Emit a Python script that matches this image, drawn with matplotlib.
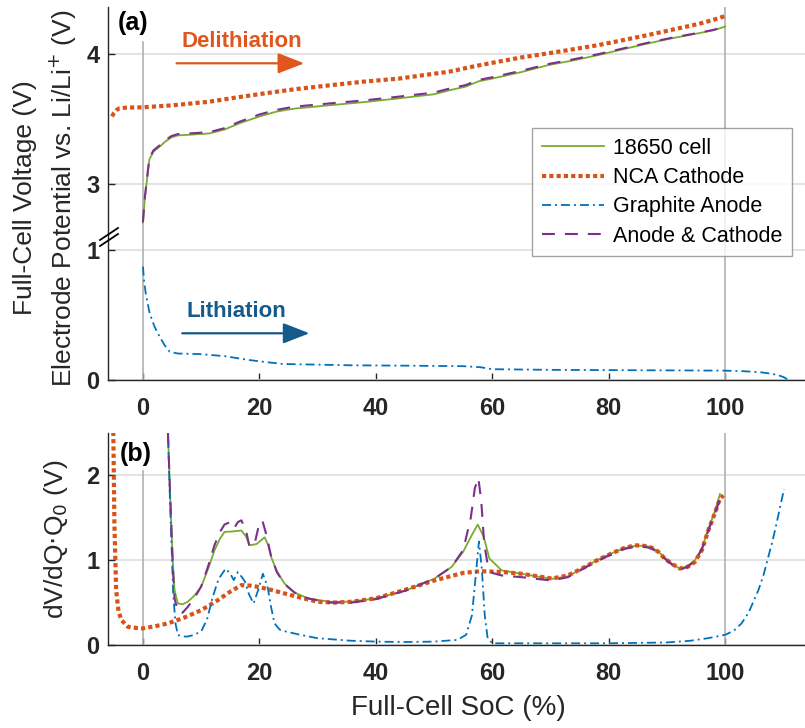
import numpy as np
import matplotlib.pyplot as plt
from matplotlib.lines import Line2D

plt.rcParams['font.family'] = ['Liberation Sans', 'DejaVu Sans']

# (a) voltage curves, x = full-cell SoC (%)
cell_x = [0, 0.3, 0.6, 1.1, 1.8, 2.9, 3.9, 4.9, 6, 8, 11.4, 14, 16.6, 20, 22.9, 26, 32.6, 38, 44, 50,
          52.6, 55.4, 57.7, 60, 65, 69.7, 74, 78.3, 82, 86.8, 91, 95.4, 98, 100]
cell_v = [2.71, 2.88, 3.0, 3.19, 3.25, 3.29, 3.33, 3.36, 3.375, 3.38, 3.39, 3.42, 3.468, 3.52, 3.557, 3.58,
          3.608, 3.63, 3.659, 3.69, 3.72, 3.748, 3.79, 3.81, 3.86, 3.914, 3.95, 3.991, 4.03, 4.08, 4.12,
          4.157, 4.18, 4.208]
ac_v = [2.71, 2.89, 3.01, 3.2, 3.26, 3.3, 3.34, 3.37, 3.385, 3.39, 3.40, 3.43, 3.48, 3.535, 3.57, 3.595,
        3.622, 3.643, 3.672, 3.703, 3.733, 3.76, 3.8, 3.82, 3.87, 3.922, 3.958, 3.998, 4.036, 4.085, 4.124,
        4.16, 4.183, 4.21]
cat_x = [-5.3, -5.0, -4.5, -4.0, -3, -1.5, 0, 5, 11.4, 16, 21.1, 26, 32.6, 38, 44, 48, 52.6, 57, 61.1, 65,
         69.7, 74, 78.3, 82, 86.8, 91, 95.4, 98, 100]
cat_v = [3.52, 3.545, 3.57, 3.583, 3.587, 3.589, 3.59, 3.605, 3.633, 3.665, 3.698, 3.728, 3.761, 3.787,
         3.81, 3.835, 3.863, 3.905, 3.94, 3.972, 4.004, 4.035, 4.067, 4.1, 4.144, 4.185, 4.228, 4.26, 4.289]
an_x = [0, 0.2, 0.5, 1.15, 2, 2.86, 3.7, 4.58, 6, 9.7, 14, 18.3, 21, 24, 30, 35.4, 45, 55, 58, 60, 70, 80,
        90, 100, 103, 106, 108, 109, 110, 111]
an_v = [0.87, 0.76, 0.66, 0.513, 0.41, 0.334, 0.27, 0.219, 0.205, 0.201, 0.185, 0.155, 0.14, 0.125, 0.12,
        0.115, 0.112, 0.108, 0.1, 0.085, 0.08, 0.078, 0.076, 0.074, 0.07, 0.062, 0.05, 0.04, 0.025, 0.0]

# (b) dV/dQ*Q0
b_cat_x = [-5.1, -5.0, -4.9, -4.6, -4.2, -3.7, -2.6, -1, 0, 2, 4.3, 7, 10, 12.9, 15, 16.9, 18.5, 19.7, 22,
           24.3, 27, 30, 33, 35.8, 40, 45, 50, 55, 58, 61.6, 65, 70.2, 73, 75.9, 78, 80.5, 82.5, 84.5, 86,
           87.3, 88.5, 89.6, 91, 92.2, 93.5, 94.8, 96, 97.1, 98.2, 99.1, 99.7]
b_cat_v = [2.6, 2.0, 1.43, 0.647, 0.4, 0.294, 0.215, 0.2, 0.196, 0.22, 0.255, 0.32, 0.41, 0.53, 0.63,
           0.706, 0.7, 0.686, 0.65, 0.608, 0.56, 0.51, 0.5, 0.51, 0.55, 0.65, 0.76, 0.85, 0.87, 0.862, 0.84,
           0.784, 0.82, 0.92, 1.0, 1.08, 1.14, 1.176, 1.17, 1.149, 1.1, 1.02, 0.95, 0.902, 0.92, 0.98, 1.12,
           1.353, 1.55, 1.726, 1.765]
b_cell_x = [4.3, 4.6, 4.86, 5.15, 5.43, 6.0, 6.8, 7.7, 8.8, 10, 11.2, 12.3, 13.2, 14.0, 15.5, 16.9, 17.7,
            18.3, 19.5, 20.2, 20.9, 21.5, 22.0, 23, 24.3, 26, 28.3, 32, 35.8, 40, 45, 50, 53, 55, 56.5,
            57.5, 58.5, 59.5, 61.6, 65, 70.2, 73, 75.9, 78, 80.5, 82.5, 84.5, 86, 87.3, 88.5, 89.6, 91,
            92.2, 93.5, 94.8, 96, 97.1, 98.2, 99.1]
b_cell_v = [2.5, 1.9, 1.43, 0.95, 0.647, 0.49, 0.48, 0.51, 0.58, 0.686, 0.9, 1.118, 1.25, 1.333, 1.34,
            1.35, 1.28, 1.176, 1.19, 1.23, 1.27, 1.18, 1.04, 0.87, 0.725, 0.62, 0.55, 0.51, 0.51, 0.55,
            0.64, 0.78, 0.92, 1.1, 1.3, 1.42, 1.28, 1.02, 0.88, 0.84, 0.78, 0.81, 0.92, 1.0, 1.08, 1.14, 1.17,
            1.17, 1.155, 1.1, 1.03, 0.95, 0.9, 0.93, 1.0, 1.14, 1.37, 1.57, 1.78]
b_ac_x = [4.3, 4.6, 4.86, 5.15, 5.43, 6.0, 6.8, 7.7, 8.8, 10, 11.2, 12.3, 13.2, 14.0, 15.0, 15.7, 16.3,
          16.9, 17.7, 18.3, 19.2, 19.8, 20.5, 21.2, 22.0, 23, 24.3, 26, 28.3, 32, 35.8, 40, 45, 50, 53, 55,
          56.3, 57.0, 57.6, 58.1, 58.6, 59.2, 60, 61.6, 65, 70.2, 73, 75.9, 78, 80.5, 82.5, 84.5, 86, 87.3,
          88.5, 89.6, 91, 92.2, 93.5, 94.8, 96, 97.1, 98.2, 99.1, 99.7]
b_ac_v = [2.5, 1.9, 1.43, 0.9, 0.55, 0.39, 0.38, 0.45, 0.55, 0.69, 0.93, 1.18, 1.33, 1.42, 1.45, 1.38,
          1.45, 1.47, 1.35, 1.16, 1.2, 1.38, 1.47, 1.3, 1.05, 0.86, 0.72, 0.62, 0.55, 0.5, 0.5, 0.54, 0.64,
          0.78, 0.92, 1.12, 1.5, 1.85, 1.97, 1.7, 1.2, 0.95, 0.85, 0.82, 0.8, 0.76, 0.8, 0.91, 0.99, 1.07,
          1.13, 1.16, 1.16, 1.14, 1.09, 1.02, 0.94, 0.89, 0.92, 0.99, 1.13, 1.35, 1.55, 1.72, 1.76]
b_an_x = [4.3, 4.6, 4.9, 5.2, 5.6, 6.0, 7.0, 7.7, 8.8, 10, 11, 12, 13, 14.2, 15.0, 15.6, 16.3, 17.0, 17.5,
          18.2, 19.0, 19.8, 20.6, 21.4, 22.0, 22.6, 23.5, 24.5, 27, 30, 35.8, 40, 45, 50, 54, 55.5, 56.5,
          57.2, 57.7, 58.2, 58.7, 59.2, 60, 65, 70, 80, 90, 94, 97, 100, 101.5, 102.8, 104, 105.7, 106.6,
          107.4, 108.1, 108.8, 109.5, 110.1]
b_an_v = [2.5, 1.8, 1.2, 0.6, 0.25, 0.118, 0.1, 0.1, 0.12, 0.16, 0.3, 0.57, 0.78, 0.9, 0.84, 0.765, 0.86,
          0.8, 0.75, 0.6, 0.49, 0.65, 0.84, 0.69, 0.45, 0.255, 0.18, 0.16, 0.12, 0.08, 0.05, 0.04, 0.035,
          0.04, 0.06, 0.12, 0.35, 0.85, 1.22, 0.9, 0.35, 0.08, 0.02, 0.02, 0.02, 0.02, 0.03, 0.05, 0.08, 0.12,
          0.17, 0.255, 0.38, 0.647, 0.83, 1.04, 1.22, 1.43, 1.65, 1.84]

labels = ['18650 cell', 'NCA Cathode', 'Graphite Anode', 'Anode & Cathode']
xticks = [0, 20, 40, 60, 80, 100]

GREEN, ORANGE, BLUE, PURPLE = '#77ac30', '#d95319', '#0072bd', '#7e2f8e'
DARK = '#262626'
shift = 1.5  # upper part of broken axis: plotted value = V - shift

W, H = 805, 728
def fx(px): return px / W
def fy(py): return 1 - py / H

fig = plt.figure(figsize=(W / 100, H / 100), dpi=100)
ax1 = fig.add_axes([fx(108), fy(380.3), 1 - fx(108), (380.3 - 7) / H])
ax2 = fig.add_axes([fx(108), fy(645), 1 - fx(108), (645 - 433) / H])

style = dict(
    cell=dict(color=GREEN, lw=1.3, ls='-'),
    cat=dict(color=ORANGE, lw=3, ls=(0, (1, 0.75))),
    an=dict(color=BLUE, lw=1.3, ls=(0, (5, 2.2, 1.1, 2.2))),
    ac=dict(color=PURPLE, lw=1.5, ls=(0, (6.2, 4.8))),
)

for ax in (ax1, ax2):
    ax.set_xlim(-6, 113.7)
    ax.set_xticks(xticks)
    for s in ('top', 'right'):
        ax.spines[s].set_visible(False)
    for s in ('left', 'bottom'):
        ax.spines[s].set_color(DARK)
        ax.spines[s].set_linewidth(1)
    ax.tick_params(direction='in', length=5, width=1, color=DARK, labelsize=17,
                   labelcolor=DARK)
    ax.tick_params(axis='x', pad=12)
    ax.tick_params(axis='y', pad=6)
    ax.yaxis.grid(True, color='#e0e0e0', lw=1.3, zorder=0)
    ax.set_axisbelow(True)

# panel (a)
ax1.set_ylim(0, 2.858)
ax1.set_yticks([0, 1, 1.5, 2.5])
ax1.set_yticklabels(['0', '1', '3', '4'])
ax1.axvline(0, ymax=0.906, color='#b0b0b0', lw=1.2, zorder=1)
ax1.axvline(100, color='#b0b0b0', lw=1.2, zorder=1)
ax1.plot(cell_x, np.array(cell_v) - shift, **style['cell'], zorder=3)
ax1.plot(cat_x, np.array(cat_v) - shift, **style['cat'], zorder=3)
ax1.plot(an_x, an_v, **style['an'], zorder=3)
ax1.plot(cell_x, np.array(ac_v) - shift, **style['ac'], zorder=4)

ax1.text(0.036, 0.958, '(a)', transform=ax1.transAxes, fontsize=18,
         fontweight='bold', ha='center', va='center', color='black')
ax1.text(17.0, 2.593, 'Delithiation', color='#e0561c', fontsize=16, fontweight='bold',
         ha='center', va='center')
ax1.annotate('', xy=(27.7, 2.427), xytext=(5.78, 2.427),
             arrowprops=dict(arrowstyle='-|>,head_length=0.9,head_width=0.35',
                             color='#e0561c', lw=1.6, mutation_scale=18, shrinkA=0, shrinkB=0))
ax1.text(16.1, 0.525, 'Lithiation', color='#155a8a', fontsize=16, fontweight='bold',
         ha='center', va='center')
ax1.annotate('', xy=(28.6, 0.36), xytext=(6.75, 0.36),
             arrowprops=dict(arrowstyle='-|>,head_length=0.9,head_width=0.35',
                             color='#155a8a', lw=1.6, mutation_scale=18, shrinkA=0, shrinkB=0))

handles = [Line2D([], [], **style[k]) for k in ('cell', 'cat', 'an', 'ac')]
leg = fig.legend(handles, labels, loc='upper left', bbox_to_anchor=(fx(532), fy(128.3)),
                 bbox_transform=fig.transFigure, fontsize=15.5, frameon=True, fancybox=False,
                 handlelength=2.9, handletextpad=0.4, labelspacing=0.38, borderpad=0.45,
                 borderaxespad=0)
leg.get_frame().set_edgecolor('#8c8c8c')
leg.get_frame().set_linewidth(1)

# axis break marks
for dy in (0, 6):
    fig.add_artist(Line2D([fx(100), fx(118)], [fy(240 + dy), fy(228 + dy)],
                          color='black', lw=1.3))

# panel (b)
ax2.set_ylim(0, 2.5)
ax2.set_yticks([0, 1, 2])
ax2.axvline(0, ymax=0.82, color='#b0b0b0', lw=1.2, zorder=1)
ax2.axvline(100, color='#b0b0b0', lw=1.2, zorder=1)
ax2.plot(b_cell_x, b_cell_v, **style['cell'], zorder=3)
ax2.plot(b_cat_x, b_cat_v, **style['cat'], zorder=3)
ax2.plot(b_an_x, b_an_v, **style['an'], zorder=3)
ax2.plot(b_ac_x, b_ac_v, **style['ac'], zorder=4)
ax2.text(0.04, 0.9, '(b)', transform=ax2.transAxes, fontsize=18, fontweight='bold',
         ha='center', va='center', color='black')

for ax in (ax1, ax2):
    for lab in ax.get_xticklabels() + ax.get_yticklabels():
        lab.set_fontweight('bold')

# labels
fig.text(fx(25), fy(198), 'Full-Cell Voltage (V)', rotation=90, fontsize=19,
         ha='center', va='center', color=DARK)
fig.text(fx(63), fy(198), 'Electrode Potential vs. Li/Li$^{+}$ (V)', rotation=90,
         fontsize=19, ha='center', va='center', color=DARK)
fig.text(fx(56), fy(539), r'dV/dQ$\cdot$Q$_0$ (V)', rotation=90, fontsize=19,
         ha='center', va='center', color=DARK)
fig.text(fx(458), fy(708), 'Full-Cell SoC (%)', fontsize=20, ha='center', va='center',
         color=DARK)

fig.savefig('out.png', dpi=100)
